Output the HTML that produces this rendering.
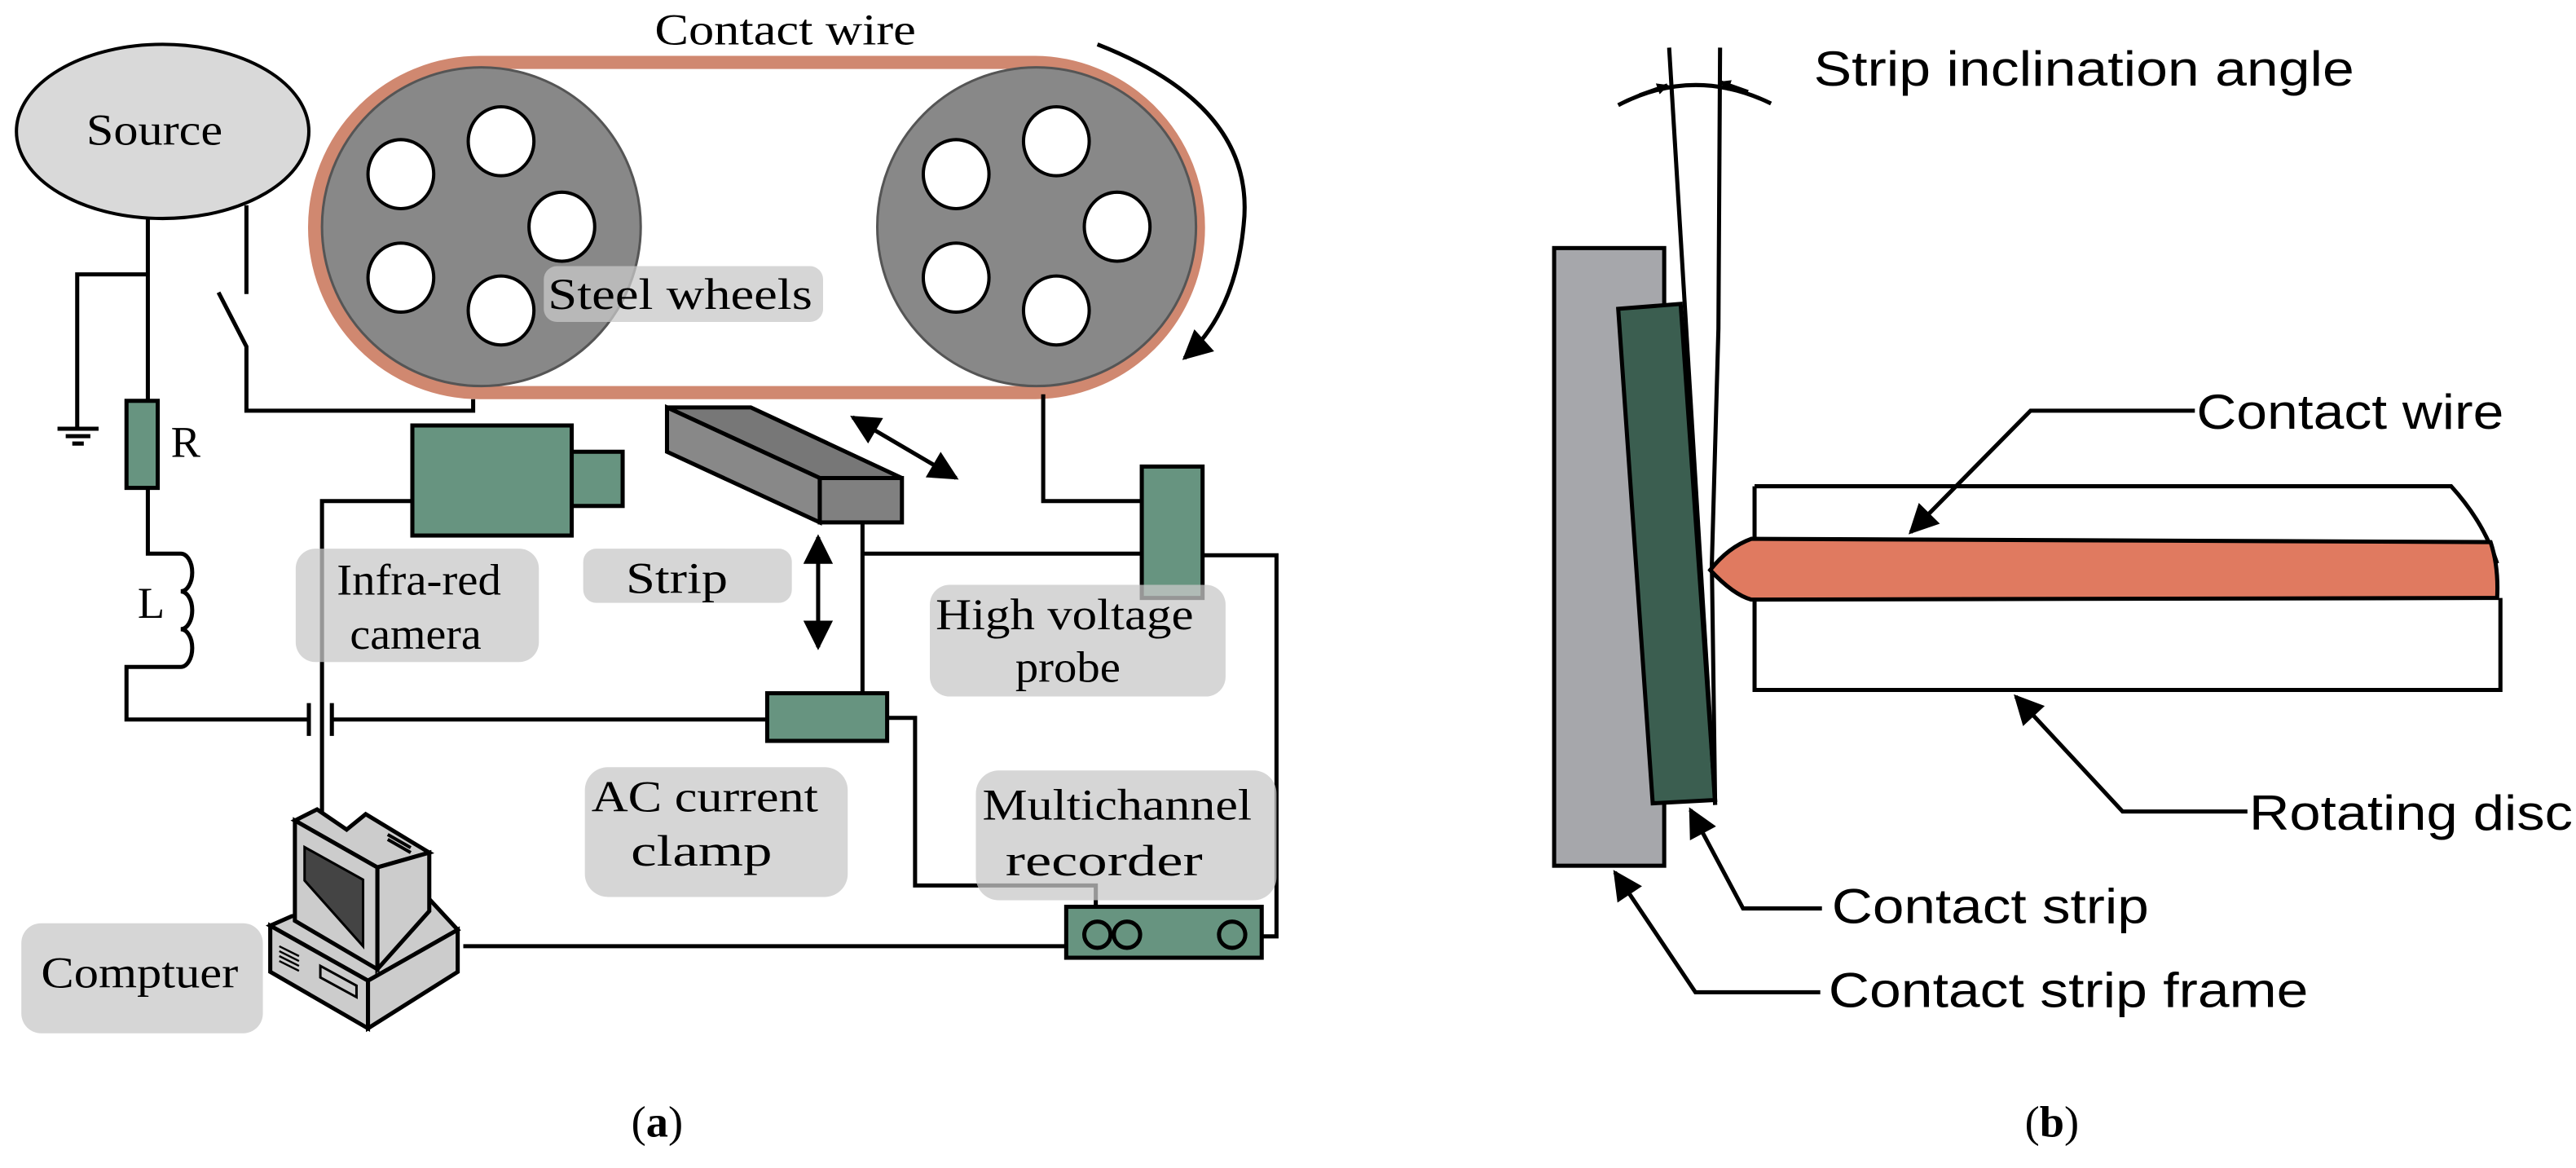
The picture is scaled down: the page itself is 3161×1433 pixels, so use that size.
<!DOCTYPE html>
<html><head><meta charset="utf-8"><style>
html,body{margin:0;padding:0;background:#fff;}
svg{display:block;}
.s{font-family:"Liberation Serif",serif;font-size:27px;fill:#000;}
.ns{font-family:"Liberation Sans","DejaVu Sans",sans-serif;font-size:30px;fill:#000;}
</style></head><body>
<svg width="3161" height="1433" viewBox="0 0 1568 711" preserveAspectRatio="none" xmlns="http://www.w3.org/2000/svg">
<defs>
<marker id="ah" viewBox="0 0 10 10" refX="9" refY="5" markerWidth="7" markerHeight="7" orient="auto-start-reverse" markerUnits="userSpaceOnUse"><path d="M0,0 L10,5 L0,10 z" fill="#000"/></marker>
<marker id="ab" viewBox="0 0 10 10" refX="9" refY="5" markerWidth="22" markerHeight="18" orient="auto-start-reverse" markerUnits="userSpaceOnUse"><path d="M0,0 L10,5 L0,10 z" fill="#000"/></marker>
</defs>
<g fill="none" stroke="#000" stroke-width="2.5">
<ellipse cx="99" cy="80" rx="89" ry="53" fill="#d9d9d9" stroke-width="2"/>
<path d="M292,38 L629,38 A100,100 0 0 1 629,239 L292,239 A100,100 0 0 1 292,38 Z" stroke="#d08870" stroke-width="8"/>
<circle cx="293" cy="138" r="97" fill="#888" stroke="#555" stroke-width="1.5"/>
<circle cx="631" cy="138" r="97" fill="#888" stroke="#555" stroke-width="1.5"/>
<g fill="#fff" stroke-width="2">
<ellipse cx="244" cy="106" rx="20" ry="21"/><ellipse cx="305" cy="86" rx="20" ry="21"/><ellipse cx="342" cy="138" rx="20" ry="21"/><ellipse cx="244" cy="169" rx="20" ry="21"/><ellipse cx="305" cy="189" rx="20" ry="21"/>
<ellipse cx="582" cy="106" rx="20" ry="21"/><ellipse cx="643" cy="86" rx="20" ry="21"/><ellipse cx="680" cy="138" rx="20" ry="21"/><ellipse cx="582" cy="169" rx="20" ry="21"/><ellipse cx="643" cy="189" rx="20" ry="21"/>
</g>
<path d="M668,27 Q765,65 757,137 Q752,190 721,218" marker-end="url(#ab)"/>
<path d="M90,132 L90,244 M90,167 L47,167 L47,260"/>
<path d="M35,261 L60,261 M40,265.5 L55,265.5 M44,270 L51,270"/>
<rect x="77" y="244" width="19" height="53" fill="#679480"/>
<path d="M90,297 L90,337 L110,337 a7,11.5 0 0 1 0,23 a7,11.5 0 0 1 0,23 a7,11.5 0 0 1 0,23 L77,406 L77,438 L188,438 M188,428 L188,448 M202,428 L202,448 M202,438 L467,438"/>
<path d="M150,125 L150,179 M133,178 L150,211 L150,250 L288,250 L288,243"/>
<rect x="251" y="259" width="97" height="67" fill="#679480"/>
<rect x="348" y="275" width="31" height="33" fill="#679480"/>
<path d="M251,305 L196,305 L196,499"/>
<polygon points="406,248 457,248 549,291 499,291" fill="#777"/>
<polygon points="406,248 406,275 499,318 499,291" fill="#888"/>
<rect x="499" y="291" width="50" height="27" fill="#808080"/>
<path d="M519,254 L582,291" marker-start="url(#ab)" marker-end="url(#ab)"/>
<path d="M498,327 L498,394" marker-start="url(#ab)" marker-end="url(#ab)"/>
<path d="M525,318 L525,422 M525,337 L695,337"/>
<path d="M635,240 L635,305 L695,305 M732,338 L777,338 L777,570 L768,570"/>
<path d="M540,437 L557,437 L557,539 L667,539 L667,562"/>
<path d="M282,576 L649,576"/>
<rect x="467" y="422" width="73" height="29" fill="#679480"/>
<rect x="649" y="552" width="119" height="31" fill="#679480"/>
<circle cx="668" cy="569" r="8"/><circle cx="686" cy="569" r="8"/><circle cx="750" cy="569" r="8"/>
<rect x="695" y="284" width="37" height="80" fill="#679480"/>
<!-- computer -->
<polygon points="164.5,563.5 177.6,557.7 261,547 278.6,566 224,597" fill="#ccc"/>
<polygon points="164.5,563.5 224,597 224,626 164.5,591.6" fill="#ccc"/>
<polygon points="224,597 278.6,566 278.6,591.6 224,626" fill="#ccc"/>
<polygon points="179.5,499.5 193,492.7 211,505 222.6,495.6 261.3,519 229.7,528" fill="#ccc"/>
<polygon points="229.7,528 261.3,519 261.3,554.6 229.7,590" fill="#ccc"/>
<polygon points="179.5,499.5 229.7,528 229.7,590 179.5,560.5" fill="#ccc"/>
<polygon points="185.4,515.7 221,535.5 221,576 185.4,536" fill="#444" stroke-width="1.5"/>
<path d="M236,508 L250,516 M236,511 L250,519" stroke-width="2"/>
<path d="M170,576 L182,582 M170,579 L182,585 M170,582 L182,588 M170,585 L182,591" stroke-width="1.2"/>
<polygon points="195,588 217,600 217,607 195,595" stroke-width="1.5"/>
</g>
<g fill="#c8c8c8" fill-opacity="0.75">
<rect x="331" y="162" width="170" height="34" rx="8"/>
<rect x="180" y="334" width="148" height="69" rx="12"/>
<rect x="355" y="334" width="127" height="33" rx="8"/>
<rect x="566" y="356" width="180" height="68" rx="12"/>
<rect x="356" y="467" width="160" height="79" rx="14"/>
<rect x="594" y="469" width="183" height="79" rx="14"/>
<rect x="13" y="562" width="147" height="67" rx="12"/>
</g>
<g class="s" text-anchor="middle" lengthAdjust="spacingAndGlyphs">
<text x="94" y="88" textLength="83" lengthAdjust="spacingAndGlyphs">Source</text>
<text x="478" y="27" textLength="159" lengthAdjust="spacingAndGlyphs">Contact wire</text>
<text x="414" y="188" textLength="161" lengthAdjust="spacingAndGlyphs">Steel wheels</text>
<text x="113" y="278">R</text>
<text x="92" y="376">L</text>
<text x="255" y="362" textLength="100" lengthAdjust="spacingAndGlyphs">Infra-red</text>
<text x="253" y="395" textLength="80" lengthAdjust="spacingAndGlyphs">camera</text>
<text x="412" y="361" textLength="62" lengthAdjust="spacingAndGlyphs">Strip</text>
<text x="648" y="383" textLength="157" lengthAdjust="spacingAndGlyphs">High voltage</text>
<text x="650" y="415" textLength="64" lengthAdjust="spacingAndGlyphs">probe</text>
<text x="429" y="494" textLength="138" lengthAdjust="spacingAndGlyphs">AC current</text>
<text x="427" y="527" textLength="86" lengthAdjust="spacingAndGlyphs">clamp</text>
<text x="680" y="499" textLength="164" lengthAdjust="spacingAndGlyphs">Multichannel</text>
<text x="672" y="533" textLength="120" lengthAdjust="spacingAndGlyphs">recorder</text>
<text x="85" y="601" textLength="120" lengthAdjust="spacingAndGlyphs">Comptuer</text>
<text x="400" y="692">(<tspan font-weight="bold">a</tspan>)</text>
<text x="1249" y="692">(<tspan font-weight="bold">b</tspan>)</text>
</g>
<g fill="none" stroke="#000" stroke-width="2.5">
<rect x="946" y="151" width="67" height="376" fill="#a6a7ab"/>
<polygon points="985,188 1023,185 1044,487 1006,489" fill="#3b5e50"/>
<path d="M1016,29 L1044,490"/>
<path d="M1047,29 L1046,200 L1042,343 L1044,490"/>
<path d="M985,64 Q1031,40 1078,63"/>
<path d="M998,58 L1015,52" marker-end="url(#ah)"/>
<path d="M1064,56 L1047,50" marker-end="url(#ah)"/>
<path d="M1068,296 L1068,420 L1522,420 L1522,364 M1068,296 L1492,296 Q1512,318 1520,343"/>
<path d="M1066,328 L1516,330 Q1521,345 1520,364 L1066,365 Q1055,362 1041,347 Q1052,333 1066,328 Z" fill="#e07a60"/>
<path d="M1336,250 L1236,250 L1163,324" marker-end="url(#ab)"/>
<path d="M1368,494 L1292,494 L1227,424" marker-end="url(#ab)"/>
<path d="M1109,553 L1061,553 L1029,493" marker-end="url(#ab)"/>
<path d="M1108,604 L1032,604 L983,531" marker-end="url(#ab)"/>
</g>
<g class="ns">
<text x="1104" y="52" textLength="329" lengthAdjust="spacingAndGlyphs">Strip inclination angle</text>
<text x="1337" y="261" textLength="187" lengthAdjust="spacingAndGlyphs">Contact wire</text>
<text x="1369" y="505" textLength="197" lengthAdjust="spacingAndGlyphs">Rotating disc</text>
<text x="1115" y="562" textLength="193" lengthAdjust="spacingAndGlyphs">Contact strip</text>
<text x="1113" y="613" textLength="292" lengthAdjust="spacingAndGlyphs">Contact strip frame</text>
</g>
</svg>
</body></html>
